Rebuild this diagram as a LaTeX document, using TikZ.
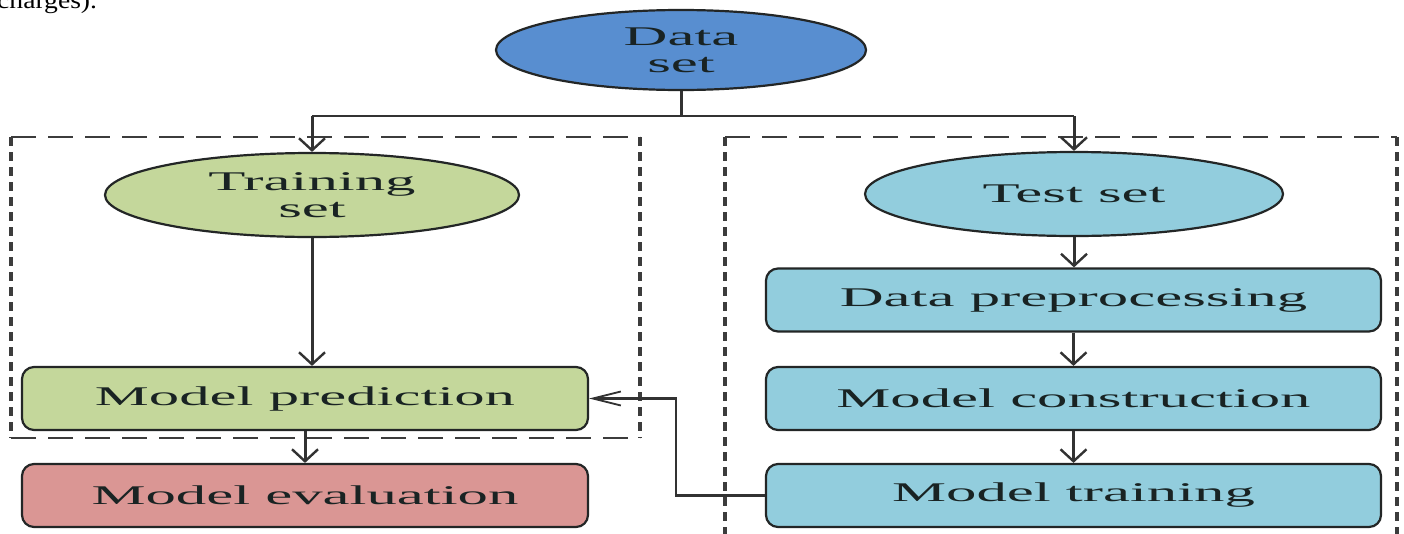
\documentclass[tikz,border=0pt]{standalone}
\usepackage{fontspec}
\setmainfont{Liberation Serif}
\newfontfamily\diagfont[FakeStretch=2.25]{Liberation Serif}
\newfontfamily\pagefont[FakeStretch=1.15]{Liberation Serif}
\usetikzlibrary{shapes.geometric,arrows.meta}
\definecolor{dsblue}{RGB}{88,142,208}
\definecolor{trgreen}{RGB}{196,215,155}
\definecolor{tsblue}{RGB}{146,205,221}
\definecolor{evpink}{RGB}{218,150,148}
\definecolor{edgec}{RGB}{35,38,38}
\definecolor{linec}{RGB}{50,50,50}
\definecolor{dashc}{RGB}{60,60,60}
\definecolor{textc}{RGB}{25,35,35}
\begin{document}
\begin{tikzpicture}[x=1pt,y=-1pt,
  txt/.style={font=\diagfont\fontsize{27}{27}\selectfont, text=textc, align=center},
  oval/.style={ellipse, draw=edgec, line width=2.2pt, inner sep=0pt, txt},
  stagebox/.style={rectangle, rounded corners=12pt, draw=edgec, line width=2.2pt, inner sep=0pt, minimum height=63pt, txt},
  vconn/.style={draw=linec, line width=3pt, -{Straight Barb[length=12pt,width=26pt,line width=2.4pt]}},
  plainv/.style={draw=linec, line width=3pt},
  hline/.style={draw=linec, line width=1.8pt},
  hconn/.style={draw=linec, line width=2.2pt, -{Straight Barb[length=28pt,width=14pt,line width=1.8pt]}},
  hdash/.style={draw=dashc, line width=1.8pt, dash pattern=on 25pt off 12pt},
  vdash/.style={draw=dashc, line width=3.2pt, dash pattern=on 9pt off 6pt}
]
\fill[white] (0,0) rectangle (1404,533);
\useasboundingbox (0,0) rectangle (1404,533);

% page text fragment
\node[anchor=base west, inner sep=0pt, font=\pagefont\fontsize{24}{24}\selectfont] (frag) at (-3,8) {charges).};

% dashed group frames
\draw[hdash] (11,137) -- (640,137);
\draw[hdash] (11,438) -- (640,438);
\draw[vdash] (11,137) -- (11,438);
\draw[vdash] (640,137) -- (640,438);
\draw[hdash] (725,137) -- (1397,137);
\draw[vdash] (725,137) -- (725,545);
\draw[vdash] (1397,137) -- (1397,545);

% nodes
\node[oval, fill=dsblue, minimum width=370pt, minimum height=80pt] (ds) at (681,50) {Data\\set};
\node[oval, fill=trgreen, minimum width=414pt, minimum height=84pt] (tr) at (312,195) {Training\\set};
\node[oval, fill=tsblue, minimum width=418pt, minimum height=84pt] (te) at (1074,194) {Test set};

\node[stagebox, fill=trgreen, minimum width=566pt] (mp) at (305,398.5) {Model prediction};
\node[stagebox, fill=evpink, minimum width=566pt] (me) at (305,495.5) {Model evaluation};

\node[stagebox, fill=tsblue, minimum width=615pt] (dp) at (1073.5,300) {Data preprocessing};
\node[stagebox, fill=tsblue, minimum width=615pt] (mc) at (1073.5,398.5) {Model construction};
\node[stagebox, fill=tsblue, minimum width=615pt] (mt) at (1073.5,495.5) {Model training};

% connectors
\coordinate (split) at (681,116);
\draw[plainv] (ds.south) -- (split);
\draw[hline] (split) -- (split -| tr.north);
\draw[hline] (split) -- (split -| te.north);
\draw[vconn] (split -| tr.north) -- (tr.north);
\draw[vconn] (split -| te.north) -- (te.north);

\draw[vconn] (tr.south) -- (tr.south |- mp.north);
\draw[vconn] (mp.south) -- (mp.south |- me.north);

\draw[vconn] (te.south) -- (te.south |- dp.north);
\draw[vconn] (dp.south) -- (dp.south |- mc.north);
\draw[vconn] (mc.south) -- (mc.south |- mt.north);

\coordinate (fb) at (676,495.5);
\draw[hconn] (mt.west) -- (fb) |- (mp.east);
\end{tikzpicture}
\end{document}
